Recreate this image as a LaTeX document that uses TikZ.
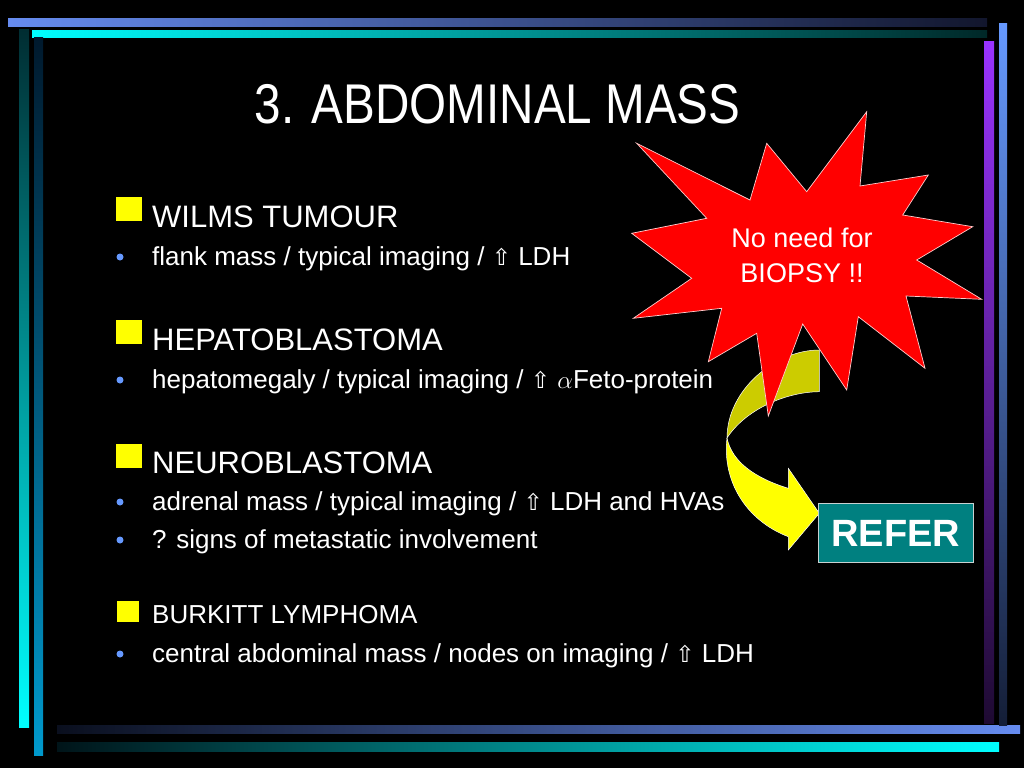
\documentclass[tikz,border=0pt]{standalone}
\usepackage{fontspec}
\setmainfont{Liberation Sans}
\newfontfamily\titlefont[FakeStretch=0.85]{Liberation Sans}
\newfontfamily\arrowfont{DejaVu Sans}
\usepackage{tikz}
\usetikzlibrary{positioning}

\definecolor{lineblue}{RGB}{102,140,240}
\definecolor{rightblue}{RGB}{102,153,255}
\definecolor{lineteal}{RGB}{0,153,204}
\definecolor{linepurple}{RGB}{153,51,255}
\definecolor{dotblue}{RGB}{102,153,255}
\definecolor{starred}{RGB}{255,0,0}
\definecolor{staredge}{RGB}{255,205,205}
\definecolor{arrowolive}{RGB}{204,204,0}
\definecolor{arrowyellow}{RGB}{255,255,0}
\definecolor{refergreen}{RGB}{0,128,128}

\newcommand{\uparr}{{\arrowfont\fontsize{23}{23}\selectfont ⇧}}

\begin{document}
\begin{tikzpicture}[x=1pt,y=-1pt,
    heading/.style={anchor=base west,inner sep=0pt,text=white,font=\fontsize{31}{34}\selectfont},
    item/.style={anchor=base west,inner sep=0pt,text=white,font=\fontsize{26}{30}\selectfont},
    sqbullet/.style={fill=arrowyellow},
    dotbullet/.style={fill=dotblue}]
			\useasboundingbox (0,0) rectangle (1024,768);
			\fill[black] (0,0) rectangle (1024,768);
			
			% frame lines
			\shade[left color=lineblue, right color={rgb,255:red,18;green,22;blue,45}] (8,19) rectangle (987,27);
			\shade[left color=cyan, right color={rgb,255:red,0;green,40;blue,40}] (32,31) rectangle (987,38);
			\shade[top color={rgb,255:red,0;green,45;blue,50}, bottom color=cyan] (19,30) rectangle (29,727);
			\shade[top color={rgb,255:red,0;green,25;blue,45}, bottom color=lineteal] (34,38) rectangle (43,755);
			\shade[left color={rgb,255:red,10;green,15;blue,30}, right color=lineblue] (57,725) rectangle (1020,733);
			\shade[left color={rgb,255:red,0;green,20;blue,25}, right color=cyan] (57,742) rectangle (999,751);
			\shade[top color=linepurple, bottom color={rgb,255:red,30;green,10;blue,50}] (984,42) rectangle (994,723);
			\shade[top color=rightblue, bottom color={rgb,255:red,20;green,30;blue,55}] (999,24) rectangle (1007,725);
			
			\node[anchor=base, inner sep=0pt, text=white, font=\titlefont\fontsize{56}{60}\selectfont] (title) at (497.5,123) {3. ABDOMINAL MASS};
			
			% WILMS
			\fill[sqbullet] (116,197) rectangle (142,221);
			\node[heading] (wilms) at (152,227) {WILMS TUMOUR};
			\fill[dotbullet] (120,257) circle (3.5);
			\node[item] (flank) at (152,265) {flank mass / typical imaging / \uparr{} LDH};
			
			% HEPATOBLASTOMA
			\fill[sqbullet] (116,320) rectangle (142,344);
			\node[heading] (hepato) at (152,350) {HEPATOBLASTOMA};
			\fill[dotbullet] (120,380) circle (3.5);
			\node[item] (hepatomeg) at (152,388) {hepatomegaly / typical imaging / \uparr{} $\alpha$Feto-protein};
			
			% NEUROBLASTOMA
			\fill[sqbullet] (116,444) rectangle (142,468);
			\node[heading] (neuro) at (152,473) {NEUROBLASTOMA};
			\fill[dotbullet] (120,502) circle (3.5);
			\node[item] (adrenal) at (152,510) {adrenal mass / typical imaging / \uparr{} LDH and HVAs};
			\fill[dotbullet] (120,540) circle (3.5);
			\node[item] (signs) at (152,548) {? signs of metastatic involvement};
			
			% BURKITT
			\fill[sqbullet] (117,601) rectangle (139,622);
			\node[item] (burkitt) at (152,623) {BURKITT LYMPHOMA};
			\fill[dotbullet] (120,654) circle (3.5);
			\node[item] (central) at (152,662) {central abdominal mass / nodes on imaging / \uparr{} LDH};
			
			% curved arrow
			\draw[white, line width=0.5pt, fill=arrowolive] (819.3,350) .. controls (775,350) and (727,390) .. (727,438)
			  .. controls (745,410) and (785,392) .. (819.3,391.7) -- cycle;
			\draw[white, line width=0.5pt, fill=arrowyellow] (727,438) .. controls (722,480) and (745,520) .. (788.3,536.7)
			  -- (788.3,550) -- (819.3,513.3) -- (788.3,468.3) -- (788.3,488.3)
			  .. controls (755,478) and (732,462) .. (727,438) -- cycle;
			
			% star
			\draw[staredge, line width=0.7pt, fill=starred] (866.7,111.7) -- (860,186) -- (928.3,175) -- (902.7,215)
			  -- (972.7,226.7) -- (916.7,260) -- (981.7,299.3) -- (906,296) -- (925,368.3) -- (858.3,316.7)
			  -- (846.7,390) -- (802.7,324) -- (768.3,416) -- (756.7,333.3) -- (708.3,361.7) -- (721.7,308.3)
			  -- (633.3,318.3) -- (691.7,278.3) -- (631.7,233.3) -- (706.7,218.3) -- (636.7,143.3) -- (750,200)
			  -- (766.7,143.3) -- (806.7,191.7) -- cycle;
			\node[text=white, align=center, inner sep=0pt, font=\fontsize{27}{35}\selectfont] (nobiopsy) at (802,255) {No need for\\BIOPSY !!};
			
			\node[draw={rgb,255:red,200;green,210;blue,210}, line width=0.8pt, fill=refergreen, text=white,
			  minimum width=155pt, minimum height=59pt, inner sep=0pt, font=\bfseries\fontsize{38}{40}\selectfont] (refer) at (895.8,533) {REFER};
			
\end{tikzpicture}
\end{document}
